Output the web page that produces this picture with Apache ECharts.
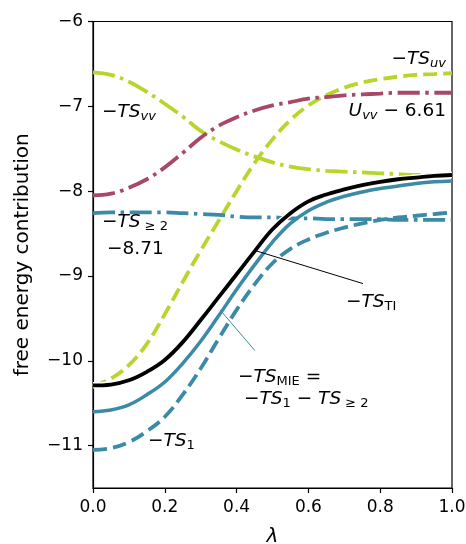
<!DOCTYPE html>
<html>
<head>
<meta charset="utf-8">
<script src="https://cdn.jsdelivr.net/npm/echarts@6/dist/echarts.min.js"></script>
<style>
  html, body { margin: 0; padding: 0; background: #fff; }
  #chart { width: 466px; height: 544px; }
</style>
</head>
<body>
<div id="chart"></div>
<script>
// lambda grid
const lam = [0, 0.05, 0.1, 0.15, 0.2, 0.25, 0.3, 0.35, 0.4, 0.45, 0.5,
             0.55, 0.6, 0.65, 0.7, 0.75, 0.8, 0.85, 0.9, 0.95, 1];

// values
const tsTI  = [-10.29, -10.28, -10.23, -10.13, -9.99, -9.78, -9.52, -9.25, -8.98, -8.71, -8.45,
               -8.26, -8.12, -8.04, -7.98, -7.93, -7.89, -7.86, -7.84, -7.82, -7.81];
const tsMIE = [-10.60, -10.58, -10.52, -10.40, -10.25, -10.03, -9.77, -9.47, -9.16, -8.87, -8.60,
               -8.38, -8.23, -8.13, -8.06, -8.01, -7.97, -7.94, -7.91, -7.89, -7.88];
const ts1   = [-11.05, -11.03, -10.96, -10.83, -10.66, -10.40, -10.09, -9.74, -9.40, -9.10, -8.85,
               -8.68, -8.57, -8.49, -8.43, -8.38, -8.34, -8.31, -8.29, -8.27, -8.25];
const ts2   = [-8.26, -8.25, -8.25, -8.25, -8.25, -8.26, -8.27, -8.28, -8.30, -8.31, -8.31,
               -8.32, -8.32, -8.33, -8.33, -8.33, -8.33, -8.34, -8.34, -8.34, -8.34];
const tsUV  = [-10.30, -10.21, -10.05, -9.80, -9.45, -9.07, -8.70, -8.35, -8.00, -7.67, -7.39,
               -7.16, -6.99, -6.87, -6.78, -6.72, -6.68, -6.65, -6.63, -6.62, -6.61];
const tsVV  = [-6.60, -6.63, -6.71, -6.83, -6.97, -7.12, -7.29, -7.41, -7.51, -7.59, -7.66,
               -7.71, -7.74, -7.76, -7.77, -7.78, -7.79, -7.80, -7.81, -7.81, -7.82];
const uVV   = [-8.05, -8.03, -7.96, -7.86, -7.72, -7.55, -7.37, -7.23, -7.13, -7.05, -6.99,
               -6.95, -6.91, -6.89, -6.87, -6.86, -6.85, -6.84, -6.84, -6.84, -6.84];

const yTicks = [-11, -10, -9, -8, -7, -6];

// annotation leader lines [lambda, value]
const leaderTI  = [[0.451, -8.70], [0.752, -9.09]];
const leaderMIE = [[0.354, -9.40], [0.451, -9.88]];

const GREEN = '#b6d62b';
const RED = '#a8476a';
const BLUE = '#3b8aa7';
const FONT = 'DejaVu Sans';

const zip = ys => lam.map((x, i) => [x, ys[i]]);
const minus = v => String(v).replace('-', '\u2212');

const DASH = [14, 6];
const DASHDOT = [22, 5.6, 3.5, 5.6];

function curve(name, ys, color, type, width) {
  return {
    name, type: 'line', data: zip(ys), smooth: 0.4, symbol: 'none',
    lineStyle: { color, width, type, cap: 'butt' }, silent: true
  };
}

function rich(color) {
  return {
    m: { fontFamily: FONT, fontSize: 18.5, color, lineHeight: 22 },
    i: { fontFamily: FONT, fontSize: 18.5, fontStyle: 'italic', color, lineHeight: 22 },
    si: { fontFamily: FONT, fontSize: 13, fontStyle: 'italic', color, lineHeight: 11, verticalAlign: 'bottom' },
    s: { fontFamily: FONT, fontSize: 13, color, lineHeight: 11, verticalAlign: 'bottom' }
  };
}

function label(x, y, text, color, align) {
  return {
    type: 'text', x, y, z: 100,
    style: { text, rich: rich(color), align: align || 'left', verticalAlign: 'middle' }
  };
}

const chart = echarts.init(document.getElementById('chart'), null, { renderer: 'canvas' });

chart.setOption({
  animation: false,
  backgroundColor: '#fff',
  grid: {
    left: 93, right: 14, top: 21.5, bottom: 56,
    show: true, borderColor: '#000', borderWidth: 1.2,
    outerBoundsMode: 'none'
  },
  xAxis: {
    type: 'value', min: 0, max: 1, interval: 0.2,
    name: 'λ', nameLocation: 'middle', nameGap: 39,
    nameTextStyle: { fontFamily: FONT, fontSize: 20, fontStyle: 'italic', color: '#000' },
    axisLine: { lineStyle: { color: '#000', width: 1.2 } },
    axisTick: { length: 5, lineStyle: { color: '#000', width: 1.2 } },
    axisLabel: {
      fontFamily: FONT, fontSize: 17, color: '#000', margin: 11,
      showMinLabel: true, showMaxLabel: true,
      formatter: v => v.toFixed(1)
    },
    splitLine: { show: false }
  },
  yAxis: {
    type: 'value', min: -11.5, max: -6,
    name: 'free energy contribution', nameLocation: 'middle', nameGap: 60,
    nameTextStyle: { fontFamily: FONT, fontSize: 20, color: '#000' },
    axisLine: { lineStyle: { color: '#000', width: 1.2 } },
    axisTick: { length: 5, customValues: yTicks, lineStyle: { color: '#000', width: 1.2 } },
    axisLabel: {
      fontFamily: FONT, fontSize: 17, color: '#000', margin: 10,
      customValues: yTicks,
      formatter: v => minus(v)
    },
    splitLine: { show: false }
  },
  series: [
    curve('TSuv', tsUV, GREEN, DASH, 3.8),
    curve('TSvv', tsVV, GREEN, DASHDOT, 3.8),
    curve('Uvv', uVV, RED, DASHDOT, 3.8),
    curve('TS2', ts2, BLUE, DASHDOT, 3.8),
    curve('TS1', ts1, BLUE, DASH, 3.8),
    curve('MIE', tsMIE, BLUE, 'solid', 3.5),
    curve('TIhalo', tsTI, '#fff', 'solid', 6.5),
    curve('TI', tsTI, '#000', 'solid', 3.8),
    {
      type: 'line', data: leaderTI, symbol: 'none', silent: true,
      lineStyle: { color: '#000', width: 1 }
    },
    {
      type: 'line', data: leaderMIE, symbol: 'none', silent: true,
      lineStyle: { color: BLUE, width: 1 }
    }
  ],
  graphic: [
    label(446, 59, '{m|\u2212}{i|TS}{si|uv}', GREEN, 'right'),
    label(446, 111, '{i|U}{si|vv}{m| \u2212 6.61}', RED, 'right'),
    label(102, 112, '{m|\u2212}{i|TS}{si|vv}', GREEN),
    label(102, 222, '{m|\u2212}{i|TS}{s| \u2265 2}', BLUE),
    label(107, 249, '{m|\u22128.71}', BLUE),
    label(148, 441, '{m|\u2212}{i|TS}{s|1}', BLUE),
    label(346, 302, '{m|\u2212}{i|TS}{s|TI}', '#000'),
    label(238, 377, '{m|\u2212}{i|TS}{s|MIE}{m| =}', BLUE),
    label(244, 399, '{m|\u2212}{i|TS}{s|1}{m| \u2212 }{i|TS}{s| \u2265 2}', BLUE)
  ]
});
</script>
</body>
</html>
